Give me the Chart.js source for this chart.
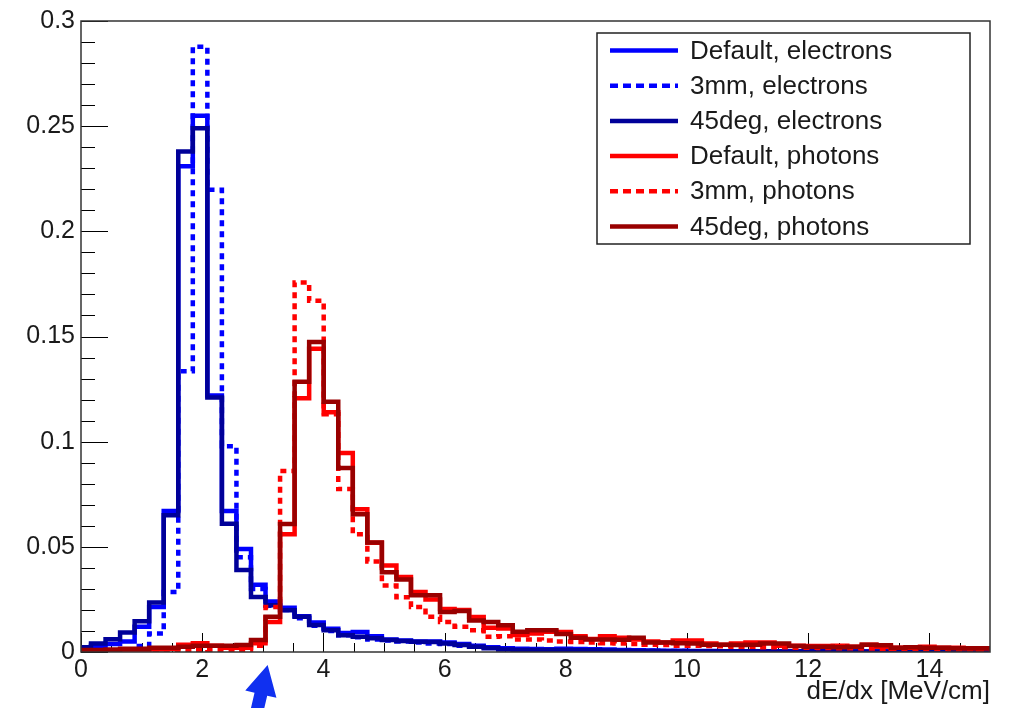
<!DOCTYPE html>
<html><head><meta charset="utf-8">
<script src="https://cdn.jsdelivr.net/npm/chart.js@4.4.1/dist/chart.umd.min.js"></script>
<style>html,body{margin:0;padding:0;background:#fff;}#wrap{width:1010px;height:708px;}</style>
</head><body><div id="wrap"><canvas id="c" width="1010" height="708"></canvas></div>
<script>
// histogram binning (bin i spans binLow + i*binWidth .. binLow + (i+1)*binWidth)
const binLow = -0.075;
const binWidth = 0.24;
const xTicks = [0, 2, 4, 6, 8, 10, 12, 14];
const yTicks = [0, 0.05, 0.1, 0.15, 0.2, 0.25, 0.3];
const xTitle = 'dE/dx [MeV/cm]';
const seriesNames = ['Default, electrons', '3mm, electrons', '45deg, electrons',
                     'Default, photons', '3mm, photons', '45deg, photons'];

const defaultElectrons = [0.0015,0.003,0.0038,0.005,0.012,0.0214,0.067,0.231,0.255,0.122,
  0.067,0.049,0.032,0.024,0.021,0.017,0.014,0.011,0.009,0.0095,
  0.0075,0.006,0.0055,0.005,0.005,0.0045,0.0038,0.003,0.0022,0.0018,
  0.0015,0.0014,0.0013,0.0015,0.0014,0.0013,0.0012,0.001,0.0008,0.0007,
  0.0006,0.0006,0.0005,0.0005,0.0004,0.0004,0.0004,0.0003,0.0003,0.0003,
  0.0003,0.0003,0.0003,0.0002,0.0002,0.0002,0.0002,0.0002,0.0002,0.0002,
  0.0002,0.0002,0.0002];
const mm3Electrons = [0,0,0.0005,0.001,0.0028,0.0088,0.0285,0.1335,0.2877,0.2198,
  0.0978,0.045,0.030,0.022,0.020,0.016,0.0125,0.010,0.008,0.007,
  0.006,0.0055,0.005,0.0045,0.004,0.0038,0.003,0.0025,0.002,0.0015,
  0.0013,0.0012,0.0011,0.001,0.001,0.0009,0.0008,0.0007,0.0006,0.0006,
  0.0005,0.0005,0.0004,0.0004,0.0004,0.0003,0.0003,0.0003,0.0003,0.0002,
  0.0002,0.0002,0.0002,0.0002,0.0002,0.0002,0.0001,0.0001,0.0001,0.0001,
  0.0001,0.0001,0.0001];
const deg45Electrons = [0.0022,0.0041,0.0061,0.0093,0.0146,0.0235,0.065,0.238,0.249,0.121,
  0.061,0.039,0.0262,0.0222,0.0198,0.0167,0.0128,0.0104,0.008,0.0072,
  0.0065,0.0057,0.0052,0.0049,0.0047,0.0041,0.0033,0.0025,0.0018,0.0012,
  0.001,0.001,0.0009,0.0009,0.0008,0.0008,0.0007,0.0006,0.0005,0.0005,
  0.0004,0.0004,0.0004,0.0003,0.0003,0.0003,0.0003,0.0003,0.0002,0.0002,
  0.0002,0.0002,0.0002,0.0002,0.0002,0.0002,0.0002,0.0001,0.0001,0.0001,
  0.0001,0.0001,0.0001];
const defaultPhotons = [0.0005,0.0005,0.0008,0.001,0.001,0.0012,0.0015,0.0035,0.0042,0.003,
  0.002,0.002,0.0042,0.0143,0.056,0.1206,0.1442,0.114,0.0946,0.0679,
  0.052,0.0411,0.0356,0.0285,0.025,0.0205,0.020,0.0166,0.0115,0.0112,
  0.0081,0.0088,0.0096,0.0095,0.0075,0.0062,0.0075,0.0068,0.006,0.005,
  0.0045,0.0055,0.0055,0.004,0.0035,0.004,0.0045,0.0045,0.003,0.003,
  0.0028,0.0028,0.003,0.0025,0.0035,0.0025,0.002,0.002,0.0025,0.002,
  0.002,0.0018,0.0018];
const mm3Photons = [0.0003,0.0003,0.0004,0.0005,0.0005,0.0005,0.0006,0.0008,0.001,0.0008,
  0.0008,0.001,0.003,0.0214,0.086,0.1757,0.167,0.113,0.0775,0.056,
  0.043,0.0316,0.026,0.0214,0.0167,0.0143,0.012,0.0104,0.0073,0.0075,
  0.006,0.006,0.0055,0.005,0.0048,0.0045,0.0042,0.004,0.0038,0.0035,
  0.0033,0.003,0.003,0.0028,0.0027,0.0025,0.0025,0.0023,0.0022,0.002,
  0.002,0.0019,0.0018,0.0018,0.0017,0.0016,0.0015,0.0015,0.0014,0.0014,
  0.0013,0.0013,0.0012];
const deg45Photons = [0.001,0.001,0.0012,0.0015,0.0015,0.002,0.002,0.0025,0.003,0.003,
  0.003,0.0033,0.0057,0.0167,0.0608,0.1285,0.1474,0.119,0.0875,0.0655,
  0.0521,0.0379,0.0345,0.027,0.027,0.019,0.0195,0.015,0.0143,0.0127,
  0.0096,0.0104,0.0104,0.0085,0.0068,0.006,0.006,0.0058,0.0068,0.0045,
  0.0045,0.0042,0.004,0.0035,0.0035,0.0033,0.0035,0.004,0.004,0.0028,
  0.0025,0.0025,0.0022,0.0025,0.0035,0.0032,0.002,0.0022,0.002,0.002,
  0.0018,0.0018,0.0018];

const seriesValues = [defaultElectrons, mm3Electrons, deg45Electrons, defaultPhotons, mm3Photons, deg45Photons];
const seriesColors = ['#0000ff', '#0000ff', '#000099', '#ff0000', '#ff0000', '#990000'];
const seriesDash = [[], [6, 5], [], [], [6, 5], []];

function histPoints(vals) {
  const pts = vals.map((v, i) => ({ x: binLow + i * binWidth, y: v }));
  pts.push({ x: binLow + vals.length * binWidth, y: vals[vals.length - 1] });
  return pts;
}

const FONT = '"Liberation Sans", Arial, Helvetica, sans-serif';
const TXT = '#1a1a1a';

const datasets = seriesValues.map((vals, k) => ({
  label: seriesNames[k],
  data: histPoints(vals),
  borderColor: seriesColors[k],
  backgroundColor: seriesColors[k],
  borderDash: seriesDash[k],
  borderWidth: 4.5,
  pointRadius: 0,
  fill: false,
  stepped: 'before',
  tension: 0,
  order: seriesValues.length - k
}));

const decor = {
  id: 'decor',
  beforeDatasetsDraw(chart) {
    const { ctx, chartArea: a, scales: { x, y } } = chart;
    ctx.save();
    ctx.strokeStyle = '#000';
    ctx.lineWidth = 1;
    ctx.beginPath();
    for (let i = 0; i < yTicks.length; i++) {
      const py = Math.round(y.getPixelForValue(yTicks[i])) + 0.5;
      ctx.moveTo(a.left, py); ctx.lineTo(a.left + 27, py);
      if (i < yTicks.length - 1) {
        const step = (yTicks[i + 1] - yTicks[i]) / 5;
        for (let m = 1; m < 5; m++) {
          const pm = Math.round(y.getPixelForValue(yTicks[i] + m * step)) + 0.5;
          ctx.moveTo(a.left, pm); ctx.lineTo(a.left + 14, pm);
        }
      }
    }
    const xs = xTicks.slice(); xs.push(xTicks[xTicks.length - 1] + (xTicks[1] - xTicks[0]));
    for (let i = 0; i < xs.length; i++) {
      if (xs[i] <= x.max) {
        const px = Math.round(x.getPixelForValue(xs[i])) + 0.5;
        ctx.moveTo(px, a.bottom); ctx.lineTo(px, a.bottom - 19);
      }
      if (i < xs.length - 1) {
        const step = (xs[i + 1] - xs[i]) / 4;
        for (let m = 1; m < 4; m++) {
          const v = xs[i] + m * step;
          if (v >= x.max) continue;
          const pm = Math.round(x.getPixelForValue(v)) + 0.5;
          ctx.moveTo(pm, a.bottom); ctx.lineTo(pm, a.bottom - 9);
        }
      }
    }
    ctx.stroke();
    ctx.restore();
  },
  afterDatasetsDraw(chart) {
    const { ctx, chartArea: a, scales: { x } } = chart;
    ctx.save();
    ctx.strokeStyle = '#333';
    ctx.lineWidth = 1.5;
    ctx.strokeRect(a.left, a.top, a.right - a.left, a.bottom - a.top);

    const lx = a.right - 20, ly = a.top + 12, lw = 373, lh = 211;
    const bx = lx - lw;
    ctx.fillStyle = '#fff';
    ctx.fillRect(bx, ly, lw, lh);
    ctx.strokeStyle = '#222';
    ctx.lineWidth = 1.5;
    ctx.strokeRect(bx, ly, lw, lh);
    const rowH = lh / seriesNames.length;
    ctx.font = '26px ' + FONT;
    ctx.textBaseline = 'middle';
    ctx.textAlign = 'left';
    for (let k = 0; k < seriesNames.length; k++) {
      const cy = ly + rowH * (k + 0.5);
      ctx.strokeStyle = seriesColors[k];
      ctx.lineWidth = 4.5;
      ctx.setLineDash(seriesDash[k].length ? [8, 5] : []);
      ctx.beginPath();
      ctx.moveTo(bx + 13, cy); ctx.lineTo(bx + 81, cy);
      ctx.stroke();
      ctx.setLineDash([]);
      ctx.fillStyle = TXT;
      ctx.fillText(seriesNames[k], bx + 93, cy + 1);
    }

    ctx.font = '26px ' + FONT;
    ctx.textAlign = 'right';
    ctx.textBaseline = 'alphabetic';
    ctx.fillStyle = TXT;
    ctx.fillText(xTitle, a.right, a.bottom + 47);

    const tipX = x.getPixelForValue(3.08), tipY = a.bottom + 13;
    const ang = Math.atan2(43, -10);
    const ux = Math.cos(ang), uy = Math.sin(ang);
    const nx = -uy, ny = ux;
    const headL = 30, headW = 16, shaftW = 6.5, tail = 60;
    ctx.fillStyle = '#1030f0';
    ctx.beginPath();
    ctx.moveTo(tipX, tipY);
    ctx.lineTo(tipX + ux * headL + nx * headW, tipY + uy * headL + ny * headW);
    ctx.lineTo(tipX + ux * headL + nx * shaftW, tipY + uy * headL + ny * shaftW);
    ctx.lineTo(tipX + ux * tail + nx * shaftW, tipY + uy * tail + ny * shaftW);
    ctx.lineTo(tipX + ux * tail - nx * shaftW, tipY + uy * tail - ny * shaftW);
    ctx.lineTo(tipX + ux * headL - nx * shaftW, tipY + uy * headL - ny * shaftW);
    ctx.lineTo(tipX + ux * headL - nx * headW, tipY + uy * headL - ny * headW);
    ctx.closePath();
    ctx.fill();
    ctx.restore();
  }
};

new Chart(document.getElementById('c'), {
  type: 'line',
  data: { datasets },
  plugins: [decor],
  options: {
    responsive: false,
    animation: false,
    devicePixelRatio: 1,
    layout: { padding: { top: 17, right: 20, left: 0, bottom: 0 } },
    plugins: { legend: { display: false }, tooltip: { enabled: false } },
    scales: {
      x: {
        type: 'linear', min: 0, max: 15,
        afterBuildTicks: s => { s.ticks = xTicks.map(v => ({ value: v })); },
        afterFit: s => { s.height = 56; },
        grid: { display: false, drawTicks: false },
        border: { display: false },
        ticks: { font: { size: 25, family: FONT }, color: TXT, padding: 3, maxRotation: 0, autoSkip: false,
                 callback: v => String(v) }
      },
      y: {
        type: 'linear', min: 0, max: 0.3,
        afterBuildTicks: s => { s.ticks = yTicks.map(v => ({ value: v })); },
        afterFit: s => { s.width = 81; },
        grid: { display: false, drawTicks: false },
        border: { display: false },
        ticks: { font: { size: 25, family: FONT }, color: TXT, padding: 6, autoSkip: false,
                 callback: v => String(v) }
      }
    }
  }
});
</script></body></html>
